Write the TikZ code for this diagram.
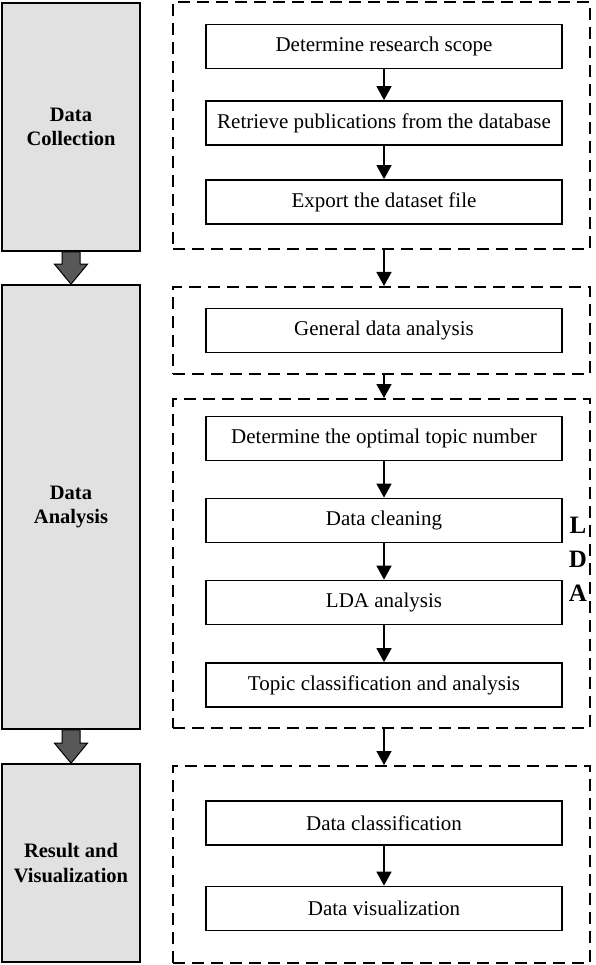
\documentclass[tikz,border=0pt]{standalone}
\usepackage{fontspec}
\setmainfont{Liberation Serif}
\usetikzlibrary{arrows.meta,calc}
\definecolor{stagegray}{RGB}{225,225,225}
\definecolor{blockgray}{RGB}{88,88,88}
\newcommand{\stagearrow}[2]{%
  \draw[blockarrow] ($(#1.south)+(-9,0)$) -- ($(#2.north)+(-9,-20)$)
    -- ($(#2.north)+(-16.5,-20)$) -- (#2.north) -- ($(#2.north)+(16.5,-20)$)
    -- ($(#2.north)+(9,-20)$) -- ($(#1.south)+(9,0)$) -- cycle;}
\tikzset{
  stage/.style={draw, line width=1.7pt, fill=stagegray, minimum width=138pt,
    align=center, font=\fontsize{20.5}{24.5}\selectfont\bfseries},
  group/.style={draw, line width=2pt, dash pattern=on 12pt off 7pt,
    minimum width=417pt},
  task/.style={draw, line width=1.7pt, minimum width=356pt, minimum height=44pt,
    font=\fontsize{21}{24}\selectfont},
  flow/.style={line width=1.5pt, -{Triangle[width=15pt,length=14pt]}},
  blockarrow/.style={draw=black, line width=1pt, fill=blockgray},
}
\begin{document}
\begin{tikzpicture}[x=1pt,y=-1pt]
\useasboundingbox (0,0) rectangle (595,965);
%% stages on the left
\node[stage, minimum height=248pt] (collect) at (71,127) {Data\\Collection};
\node[stage, minimum height=444pt] (analyse) at (71,507) {Data\\Analysis};
\node[stage, minimum height=198pt] (result) at (71,863) {Result and\\Visualization};
\stagearrow{collect}{analyse}
\stagearrow{analyse}{result}
%% dashed groups
\node[group, minimum height=247pt] (grpA) at (381.5,125.5) {};
\node[group, minimum height=87pt] (grpB) at (381.5,330.5) {};
\node[group, minimum height=329pt] (grpC) at (381.5,563.5) {};
\node[group, minimum height=197pt] (grpD) at (381.5,864.5) {};
%% steps
\node[task] (scope) at (384,46.5) {Determine research scope};
\node[task] (retrieve) at (384,123) {Retrieve publications from the database};
\node[task] (export) at (384,202) {Export the dataset file};
\node[task] (general) at (384,330.5) {General data analysis};
\node[task] (topicnum) at (384,438.5) {Determine the optimal topic number};
\node[task] (clean) at (384,520.5) {Data cleaning};
\node[task] (ldaan) at (384,602.5) {LDA analysis};
\node[task] (topiccls) at (384,685) {Topic classification and analysis};
\node[task] (datacls) at (384,823) {Data classification};
\node[task] (datavis) at (384,908.5) {Data visualization};
\node[align=center, font=\fontsize{25}{34}\selectfont\bfseries] (lda) at (578,559) {L\\D\\A};
%% arrows
\draw[flow] (scope) -- (retrieve);
\draw[flow] (retrieve) -- (export);
\draw[flow] (grpA.south -| export) -- (grpB.north -| export);
\draw[flow] (grpB.south -| general) -- (grpC.north -| general);
\draw[flow] (topicnum) -- (clean);
\draw[flow] (clean) -- (ldaan);
\draw[flow] (ldaan) -- (topiccls);
\draw[flow] (grpC.south -| topiccls) -- (grpD.north -| topiccls);
\draw[flow] (datacls) -- (datavis);
\end{tikzpicture}
\end{document}
